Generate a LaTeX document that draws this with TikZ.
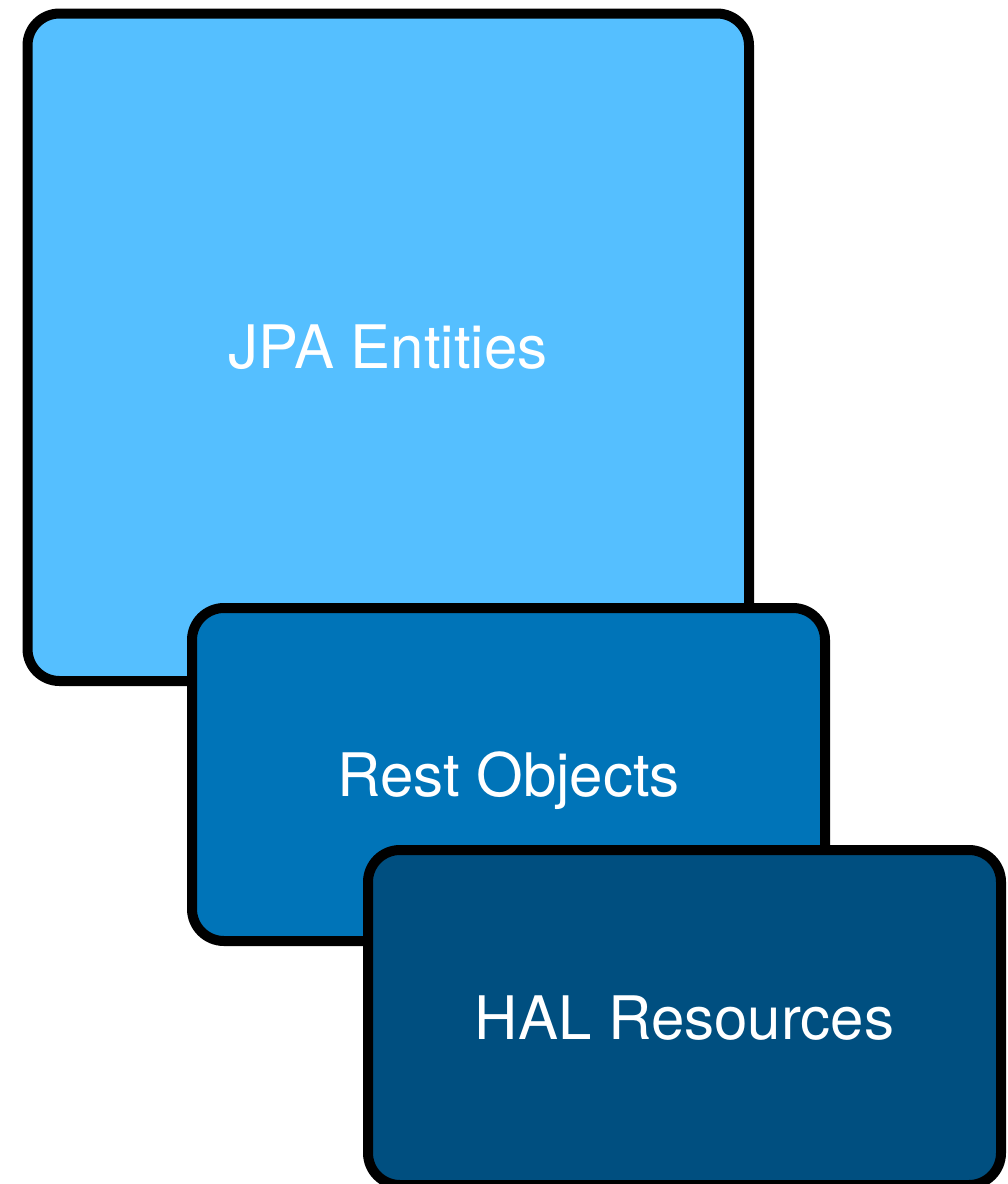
\documentclass[tikz,border=0pt]{standalone}
\usepackage{fontspec}
\setmainfont{TeX Gyre Heros}
\usetikzlibrary{positioning}

\definecolor{entityblue}{HTML}{55BFFF}
\definecolor{restblue}{HTML}{0074B8}
\definecolor{halblue}{HTML}{004F80}

\tikzset{
    layer/.style={draw=black, line width=10pt, rounded corners=32pt,
        text=white, font=\fontsize{60}{72}\selectfont,
        text height=43pt, text depth=0pt}
}

\begin{document}
\begin{tikzpicture}[x=1pt, y=1pt]
        \useasboundingbox (0, 0) rectangle (1008, -1184);

        \node (jpa) at (388.25, -347.25) [layer, fill=entityblue, minimum width=721.5pt, minimum height=667.5pt] {JPA Entities};
        \node (rest) at (508.5, -774.5) [layer, fill=restblue, minimum width=633pt, minimum height=333pt] {Rest Objects};
        \node (hal) at (684.5, -1017.5) [layer, fill=halblue, minimum width=633pt, minimum height=335pt] {HAL Resources};
    \end{tikzpicture}
\end{document}
